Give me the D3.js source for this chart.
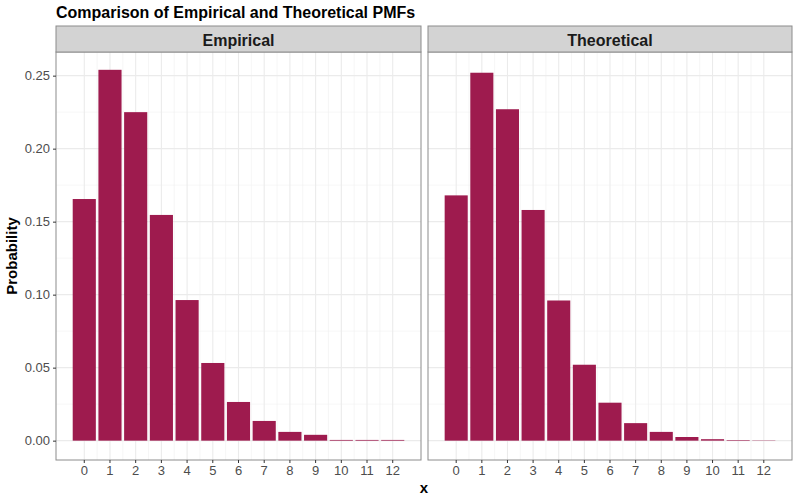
<!DOCTYPE html>
<html><head><meta charset="utf-8">
<script src="https://cdn.jsdelivr.net/npm/d3@7"></script>
<style>body{margin:0;background:#fff}text{font-family:"Liberation Sans",Arial,sans-serif}</style>
</head><body><svg id="c" width="800" height="500"></svg>
<script>
const categories = ["0","1","2","3","4","5","6","7","8","9","10","11","12"];
const empirical = [0.1655,0.254,0.225,0.1546,0.0963,0.0532,0.0265,0.0135,0.006,0.004,0.0005,0.0005,0.0005];
const theoretical = [0.168,0.252,0.227,0.158,0.096,0.052,0.026,0.012,0.006,0.0025,0.001,0.0004,0.0002];
const panels = [{name:"Empirical", values:empirical, x0:56, x1:421},
                {name:"Theoretical", values:theoretical, x0:428, x1:792}];
const yTicks = [0,0.05,0.10,0.15,0.20,0.25];

const svg = d3.select("#c");
const pTop = 52, pBottom = 460;
const y = d3.scaleLinear().domain([-0.01325,0.2662]).range([pBottom, pTop]);

svg.append("text").attr("x",56).attr("y",18).attr("font-size",16).attr("font-weight","bold").text("Comparison of Empirical and Theoretical PMFs");

panels.forEach((p,pi)=>{
  const g = svg.append("g");
  const x = d3.scaleBand().domain(categories).range([p.x0,p.x1]).paddingOuter(0.6).paddingInner(0);
  const bw = x.bandwidth();
  // minor y grid
  yTicks.slice(0,-1).forEach(t=>g.append("line").attr("x1",p.x0).attr("x2",p.x1)
    .attr("y1",y(t+0.025)).attr("y2",y(t+0.025)).attr("stroke","#f0f0f0").attr("stroke-width",0.6));
  // minor x grid
  categories.slice(0,-1).forEach(c=>g.append("line").attr("y1",pTop).attr("y2",pBottom)
    .attr("x1",x(c)+bw).attr("x2",x(c)+bw).attr("stroke","#f0f0f0").attr("stroke-width",0.6));
  yTicks.forEach(t=>g.append("line").attr("x1",p.x0).attr("x2",p.x1)
    .attr("y1",y(t)).attr("y2",y(t)).attr("stroke","#ebebeb").attr("stroke-width",1.1));
  categories.forEach(c=>g.append("line").attr("y1",pTop).attr("y2",pBottom)
    .attr("x1",x(c)+bw/2).attr("x2",x(c)+bw/2).attr("stroke","#ebebeb").attr("stroke-width",1.1));
  g.selectAll("rect.bar").data(p.values).enter().append("rect").attr("class","bar")
    .attr("x",(d,i)=>x(categories[i])+bw*0.05).attr("width",bw*0.9)
    .attr("y",d=>y(d)).attr("height",d=>y(0)-y(d)).attr("fill","#9e1b4e");
  g.append("rect").attr("x",p.x0).attr("y",pTop).attr("width",p.x1-p.x0).attr("height",pBottom-pTop)
    .attr("fill","none").attr("stroke","#8c8c8c").attr("stroke-width",1);
  // strip
  g.append("rect").attr("x",p.x0).attr("y",26).attr("width",p.x1-p.x0).attr("height",pTop-26)
    .attr("fill","#d3d3d3").attr("stroke","#8c8c8c").attr("stroke-width",1);
  g.append("text").attr("x",(p.x0+p.x1)/2).attr("y",46).attr("text-anchor","middle")
    .attr("font-size",16).attr("font-weight","bold").attr("fill","#1a1a1a").text(p.name);
  // x axis
  const xa = g.append("g").attr("transform",`translate(0,${pBottom})`)
    .call(d3.axisBottom(x).tickSize(3).tickPadding(3));
  xa.select(".domain").remove();
  xa.selectAll("line").attr("stroke","#333");
  xa.selectAll("text").attr("font-size",13).attr("fill","#4d4d4d");
  if(pi===0){
    const ya = g.append("g").attr("transform",`translate(${p.x0},0)`)
      .call(d3.axisLeft(y).tickValues(yTicks).tickFormat(d3.format(".2f")).tickSize(3).tickPadding(3));
    ya.select(".domain").remove();
    ya.selectAll("line").attr("stroke","#333");
    ya.selectAll("text").attr("font-size",13).attr("fill","#4d4d4d");
  }
});
svg.append("text").attr("x",424).attr("y",493).attr("text-anchor","middle").attr("font-size",15).attr("font-weight","bold").text("x");
svg.append("text").attr("transform","translate(17,256) rotate(-90)").attr("text-anchor","middle").attr("font-size",15).attr("font-weight","bold").text("Probability");
</script></body></html>
